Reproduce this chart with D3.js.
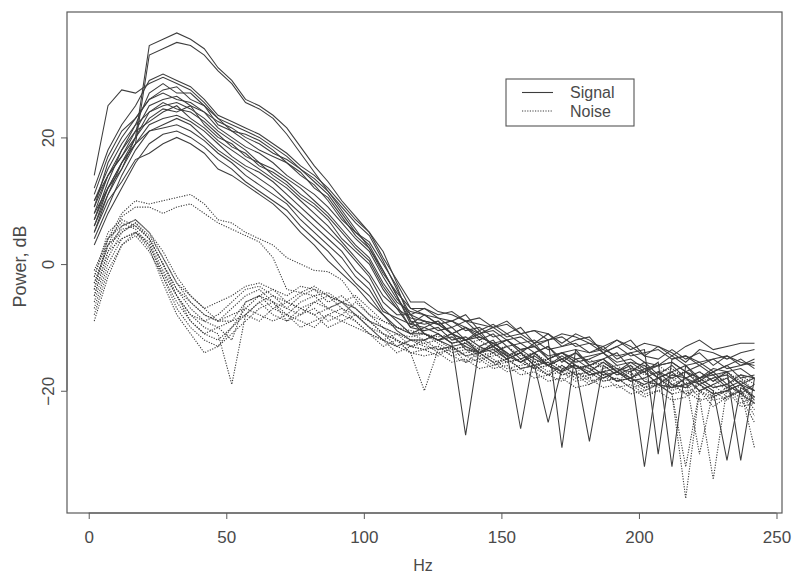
<!DOCTYPE html>
<html><head><meta charset="utf-8">
<script src="https://cdn.jsdelivr.net/npm/d3@7"></script>
<style>body{margin:0;background:#fff}svg{display:block}</style>
</head><body><svg id="c" width="796" height="574"></svg>
<script>
// Frequencies (Hz) at which every spectrum is sampled
const hz = [2,7,12,17,22, 27,32,37,42,47, 52,57,62,67,72, 77,82,87,92,97,
  102,107,112,117,122, 127,132,137,142,147, 152,157,162,167,172, 177,182,187,192,197,
  202,207,212,217,222, 227,232,237,242];

// Signal spectra (dB)
const signal1 = [10,14,17,20,34.5, 35.5,36.5,35.5,34,31, 29,26,25,23.5,21.5, 18.5,15.5,13,10,7.5, 5,2,-3,-7,
  -7,-8.5,-9,-8,-10.5, -9.5,-11,-10,-12.5,-11, -13,-12,-11.5,-14,-13, -12,-14.5,-15,-13.5,-15, -14,-16,-14.5,-15.5,-16];
const signal2 = [8,12,16,19,33, 34,35,34.5,33,30.5, 28.5,25.5,24.5,23,20.5, 17.5,14.5,11.5,8.5,5.5, 2.5,-1,-5,-9,
  -9.5,-9,-11,-12,-10.5, -13,-12,-14,-12.5,-15, -14,-13.5,-16,-15,-17, -15.5,-16,-18,-17,-16, -18.5,-17,-19,-17.5,-18];
const signal3 = [14,25,27.5,27,28.5, 29.5,28.5,27.5,25.5,23, 22,21,20,18.5,17, 15,13.5,11.5,9,6.5, 4.5,0.5,-4,-8,
  -11,-12,-11,-13.5,-14, -12.5,-14,-15.5,-14.5,-16, -17,-15,-16.5,-18,-17, -16,-18.5,-19,-17.5,-18, -20,-19,-18,-20.5,-19];
const signal4 = [12,18,22,25,29, 30,29,28,26,23.5, 22.5,21.5,20.5,19,17.5, 15.5,14,12,9.5,7, 5,1,-2.5,-6,
  -6,-7.5,-8,-9,-8.5, -10,-9,-11,-10.5,-11, -12.5,-11,-12,-13.5,-12, -13,-14.5,-13,-14,-15.5, -13.5,-14,-15,-14,-13.5];
const signal5 = [9,16,20,23,26, 27.5,28,26,25,22, 21,19.5,18,17,16, 14,12.5,10,7,5, 3,-1,-5,-9.5,
  -10,-11,-12.5,-27,-13, -12,-14.5,-13.5,-15,-16, -14.5,-16,-17,-15.5,-17, -18,-16.5,-18,-17,-19, -18,-17.5,-19.5,-18.5,-20];
const signal6 = [7,13,18,21,25, 26,26.5,25,24,21.5, 20,18.5,17.5,16,14, 12.5,11,9,6.5,4, 2,-2,-5.5,-8,
  -9,-10.5,-10,-12,-11.5, -12.5,-14,-26,-14,-13, -15.5,-14,-16,-15,-16.5, -17,-15.5,-17.5,-16,-18, -17,-18.5,-17,-19,-18];
const signal7 = [10,15,19,22,24, 25,25.5,24.5,23,21, 19.5,18,16,15,13.5, 12,10,8,5.5,3, 1,-3,-6,-7.5,
  -8,-9.5,-9,-10,-11, -10.5,-12,-11.5,-13,-12, -29,-13.5,-14,-13,-15, -14,-15.5,-16,-14.5,-16, -15.5,-17,-16,-15,-16.5];
const signal8 = [5,11,16,20,23, 24.5,24,25,22,20, 19,17,16,14,12.5, 10.5,9,7,4,2, 0,-4,-7,-10,
  -10.5,-10,-12,-11.5,-13, -14,-13,-15,-14,-16, -15,-16.5,-28,-16,-17.5, -16.5,-32,-17,-18,-17, -19,-18,-17.5,-19,-20];
const signal9 = [8,14,17,21,22.5, 24,25,23,21.5,19.5, 18,16.5,15,13.5,12, 10,8,6,3.5,1, -1.5,-5,-7,-8.5,
  -9,-9.5,-11,-10,-12, -11,-13,-12.5,-14,-13, -15,-14,-15.5,-15,-14, -16.5,-17,-15.5,-32,-16, -18,-17,-16,-18,-17.5];
const signal10 = [6,12,15,19,22, 23,23.5,22.5,21,19, 17,15.5,14.5,13,11, 9,7,5,3,0.5, -2,-6,-8,-8,
  -7,-8,-7.5,-9,-9.5, -10,-9.5,-11,-10.5,-12, -11,-11.5,-12.5,-13,-12, -13.5,-12.5,-13,-14.5,-13, -12,-13.5,-13,-12.5,-12.5];
const signal11 = [11,17,21,23,26, 27,26,25.5,24,22.5, 21.5,20,19,17.5,16.5, 15,13,11,8,5, 3.5,0,-3.5,-9,
  -11,-12,-11.5,-13,-14, -13.5,-15,-14,-16,-15.5, -17,-16,-17.5,-17,-16.5, -18,-19,-18,-19.5,-19, -18.5,-20,-31,-19.5,-21];
const signal12 = [4,9,14,18,21, 22,23,22,20,18, 16.5,15,13.5,12,10, 8,6,4,2,-1, -3,-7,-9,-11,
  -10,-9,-11,-12,-11, -13,-12,-13.5,-13,-15, -14,-15.5,-15,-14,-16, -15.5,-17,-16,-15.5,-17, -18,-16.5,-17,-31,-18];
const signal13 = [7,12,16,19,21, 21.5,22,21,19.5,17.5, 16,14,12.5,11,9.5, 7,5,3,1,-2, -4,-7.5,-8.5,-9.5,
  -8,-8.5,-10,-9,-11, -10,-11.5,-11,-12.5,-12, -11.5,-13,-12.5,-14,-13, -14.5,-14,-13.5,-15,-14.5, -15.5,-15,-14.5,-16,-15.5];
const signal14 = [3,8,12,16,19, 20.5,21,20,18.5,16.5, 15,13,11.5,10,8.5, 6,4,2,-0.5,-3, -5,-8,-10,-11,
  -11,-12,-13,-12.5,-14, -13,-15,-14,-16,-25, -16.5,-16,-17.5,-17,-18.5, -18,-17,-19,-19.5,-18, -19,-20.5,-20,-19,-21.5];
const signal15 = [5,10,13,16.5,17.5, 19,20,19,17.5,15, 14,12.5,11,9.5,7.5, 5,3,0.5,-1.5,-3.5, -6,-8,-10.5,-12,
  -12,-11,-12.5,-12,-14, -13,-14.5,-15.5,-14,-16, -15,-16.5,-16,-17.5,-17, -18.5,-18,-17,-19,-19.5, -18,-19.5,-19,-20.5,-22];
const signal16 = [9,14,18,22,27, 28.5,27,27,25,23, 21,20.5,19.5,18,16, 14.5,12,10.5,7.5,4.5, 2.5,-1.5,-4.5,-7,
  -8,-9.5,-9,-10.5,-10, -11.5,-11,-12.5,-12,-13.5, -13,-12.5,-14,-13.5,-14.5, -14,-13.5,-30,-15,-14.5, -16,-15,-16.5,-16,-15];
const signal17 = [6,11,15,20,24, 25.5,24.5,24,22.5,20.5, 18.5,17.5,15.5,14.5,13, 11,9.5,7.5,5,2.5, 0.5,-3.5,-6.5,-10,
  -9,-9.5,-11,-10,-11.5, -12.5,-12,-13.5,-13,-14.5, -14,-15,-14.5,-14,-15.5, -15,-16.5,-16,-15.5,-17, -16,-17.5,-17,-16.5,-18];

// Noise spectra (dB)
const noise1 = [-2,4,8,10,9.5, 10,10.5,11,9.5,7, 6.5,5,4,3,1, 0,-1,-1.2,-2.5,-5.5, -8,-9,-10,-10.5,
  -11,-11.5,-11,-12.5,-12, -13.5,-13,-14.5,-14,-15.5, -15,-16.5,-16,-15.5,-17, -16,-17.5,-17,-16.5,-18, -17,-18.5,-18,-17.5,-19];
const noise2 = [-4,3,7.5,9,9, 8,9,9.5,8,6.5, 5.5,4.5,3.5,1,-4, -4.5,-5,-4.5,-6,-7, -9,-10,-11,-12,
  -12,-11,-12.5,-12,-13.5, -13,-14.5,-14,-15.5,-15, -14,-16,-16.5,-16,-17.5, -17,-16,-18,-18.5,-17, -18,-19.5,-19,-18,-20];
const noise3 = [-5,2,6,7,5, 1,-3,-6,-8,-9, -7,-5,-4,-6,-7, -5,-4,-6,-5,-7, -9,-11,-12,-13,
  -12.5,-12,-13.5,-13,-14.5, -14,-15.5,-15,-16.5,-16, -17.5,-17,-16,-17.5,-18.5, -17,-19.5,-18,-19,-20.5, -19,-18,-20,-19,-21];
const noise4 = [-3,3,5.5,6,4, 0,-4,-7,-9,-10, -12,-6,-5,-7,-8, -6,-5,-7,-6,-8, -10,-12,-13,-12,
  -13,-13.5,-13,-14.5,-14, -15.5,-15,-16.5,-16,-15, -16.5,-18,-17.5,-17,-18.5, -18,-19.5,-19,-20.5,-37, -20,-19,-21,-20,-23];
const noise5 = [-7,0,4,5,3.5, -1,-5,-8,-10,-11, -19,-8,-6,-5,-7, -8,-6,-5,-7,-8, -9,-11,-12,-14,
  -20,-13.5,-13,-14.5,-15.5, -14,-15.5,-15,-16.5,-17.5, -16,-17.5,-17,-18.5,-18, -19.5,-19,-18,-20,-19, -21,-34,-19.5,-22,-21];
const noise6 = [-9,-2,3,4.5,2, -2,-6,-9,-11,-12, -10,-7,-5,-4,-6, -7,-8,-7,-6,-8, -10,-11,-13,-12,
  -12.5,-14,-13.5,-13,-14.5, -16,-15.5,-15,-16.5,-16, -17.5,-17,-18.5,-18,-17, -18.5,-18,-19.5,-19,-18, -20,-21,-19.5,-20,-24];
const noise7 = [-4,4,6.5,5.5,3, -1.5,-5,-8,-9,-8, -6,-4,-3.5,-5,-6, -4.5,-3.5,-5,-6,-7, -9,-10,-11,-11.5,
  -11,-12.5,-14,-13.5,-15, -14.5,-14,-15.5,-16.5,-15, -16.5,-16,-17.5,-17,-18.5, -18,-17,-19,-18,-19.5, -19,-20.5,-20,-19,-22];
const noise8 = [-6,1,5,6.5,4.5, 1,-3,-5,-7,-9, -8,-7,-8,-9,-8, -10,-9,-8,-7,-9, -11,-12,-11,-13,
  -13.5,-13,-14.5,-14,-13.5, -15,-16.5,-16,-15.5,-17, -16,-17.5,-19,-18,-17, -18.5,-20,-19,-19.5,-18, -30,-20,-21.5,-19,-21];
const noise9 = [-2,5,7,6,4, 0,-4,-6,-8,-9, -9,-6,-5,-6,-9, -8,-7,-9,-8,-6, -8,-10,-12,-13,
  -12,-13.5,-13,-14.5,-14, -15.5,-17,-16.5,-16,-17.5, -17,-18.5,-18,-19.5,-19, -20.5,-20,-19,-20.5,-20, -21.5,-21,-20,-21,-25];
const noise10 = [-8,-1,3,5,3, -2,-7,-10,-12,-13, -11,-9,-7,-6,-8, -9,-10,-8,-9,-10, -11,-13,-12,-14,
  -13.5,-14.5,-13,-15.5,-15, -16.5,-16,-17.5,-17,-18.5, -18,-19.5,-19,-17.5,-19.5, -19,-20.5,-20,-21.5,-21, -19,-21,-20,-22.5,-22];
const noise11 = [-5,2,4,5,2.5, -3,-8,-11,-14,-13, -10,-8,-6,-8,-9, -7,-8,-10,-9,-8, -10,-12,-14,-13,
  -13.5,-13,-14.5,-15.5,-14, -15.5,-15,-16.5,-18,-17.5, -16,-17.5,-17,-18.5,-18, -19.5,-21,-20,-19,-20.5, -20,-21.5,-21,-20,-29];
const noise12 = [-1,4,6,7,5, 2,-2,-5,-7,-6, -5,-3.5,-3,-4,-5, -3.5,-4,-5,-6,-5, -7,-9,-10,-11,
  -12,-11,-12.5,-12,-13.5, -13,-14.5,-14,-15.5,-15, -14,-15.5,-15,-16.5,-16, -17.5,-17,-16,-17.5,-17, -18.5,-18,-17,-18.5,-18];
const noise13 = [-3,3,5,6.5,4, 0,-5,-9,-11,-10, -9,-8,-9,-7,-6, -7,-6,-7,-8,-9, -11,-12,-13,-14,
  -14.5,-14,-15.5,-15,-16.5, -16,-15,-16.5,-16,-17.5, -18.5,-17,-18,-16.5,-18.5, -18,-19.5,-19,-20.5,-32, -20,-22.5,-21,-20,-22];

const signalSeries = [signal1,signal2,signal3,signal4,signal5,signal6,signal7,signal8,signal9,
  signal10,signal11,signal12,signal13,signal14,signal15,signal16,signal17];
const noiseSeries = [noise1,noise2,noise3,noise4,noise5,noise6,noise7,noise8,noise9,
  noise10,noise11,noise12,noise13];

const xTicks = [0,50,100,150,200,250];
const yTicks = [-20,0,20];
const legendLabels = ["Signal","Noise"];
const xTitle = "Hz";
const yTitle = "Power, dB";

const svg = d3.select("#c");
const L = 67, T = 12, R = 782, B = 513;
const x = d3.scaleLinear().domain([-7.9, 252]).range([L, R]);
const y = d3.scaleLinear().domain([-39.3, 39.8]).range([B, T]);
const ink = "#3d3d3d";
const textCol = "#4a4a4a";
const font = "Liberation Sans, Arial, sans-serif";

const line = d3.line().x((d,i) => x(hz[i])).y(d => y(d));

const g = svg.append("g");
g.selectAll("path.noise").data(noiseSeries).join("path")
  .attr("class","noise").attr("d", line).attr("fill","none")
  .attr("stroke", ink).attr("stroke-width", 1.1).attr("stroke-dasharray","1.2,1.4");
g.selectAll("path.signal").data(signalSeries).join("path")
  .attr("class","signal").attr("d", line).attr("fill","none")
  .attr("stroke", ink).attr("stroke-width", 1.05);

// frame
svg.append("rect").attr("x", L).attr("y", T).attr("width", R - L).attr("height", B - T)
  .attr("fill","none").attr("stroke","#5a5a5a").attr("stroke-width",1.2);

// x axis
const xa = svg.append("g").attr("transform", `translate(0,${B})`)
  .call(d3.axisBottom(x).tickValues(xTicks).tickSize(6).tickPadding(12).tickFormat(d3.format("d")));
xa.select(".domain").attr("stroke","#5a5a5a").attr("d", `M${x(0)},0H${x(250)}`);
xa.selectAll(".tick line").attr("stroke","#5a5a5a");
xa.selectAll("text").attr("font-family",font).attr("font-size",17).attr("fill",textCol);

// y axis
const ya = svg.append("g").attr("transform", `translate(${L},0)`)
  .call(d3.axisLeft(y).tickValues(yTicks).tickSize(6).tickFormat(d3.format("d")));
ya.select(".domain").attr("stroke","#5a5a5a").attr("d", `M0,${y(-20)}V${y(20)}`);
ya.selectAll(".tick line").attr("stroke","#5a5a5a");
ya.selectAll("text").attr("x",0).attr("y",0).attr("dy",0)
  .attr("text-anchor","middle").attr("transform","translate(-13,0) rotate(-90)")
  .attr("font-family",font).attr("font-size",17).attr("fill",textCol);

// axis titles
svg.append("text").attr("x", 423).attr("y", 571).attr("text-anchor","middle")
  .attr("font-family",font).attr("font-size",16).attr("fill",textCol).text(xTitle);
svg.append("text").attr("transform", `translate(26,${(T+B)/2 + 4}) rotate(-90)`).attr("text-anchor","middle")
  .attr("font-family",font).attr("font-size",18).attr("fill",textCol).text(yTitle);

// legend
const lg = svg.append("g");
lg.append("rect").attr("x",506).attr("y",79).attr("width",128).attr("height",47)
  .attr("fill","#fff").attr("stroke","#555").attr("stroke-width",1.1);
const legendStyles = [null, "1.2,1.4"];
legendLabels.forEach((lab, i) => {
  const yy = 92.5 + i * 18.5;
  lg.append("line").attr("x1",522).attr("x2",553).attr("y1",yy).attr("y2",yy)
    .attr("stroke", ink).attr("stroke-width",1.1).attr("stroke-dasharray", legendStyles[i]);
  lg.append("text").attr("x",570).attr("y", yy + 5.5).attr("font-family",font)
    .attr("font-size",16).attr("fill",textCol).text(lab);
});
</script>
</body></html>
